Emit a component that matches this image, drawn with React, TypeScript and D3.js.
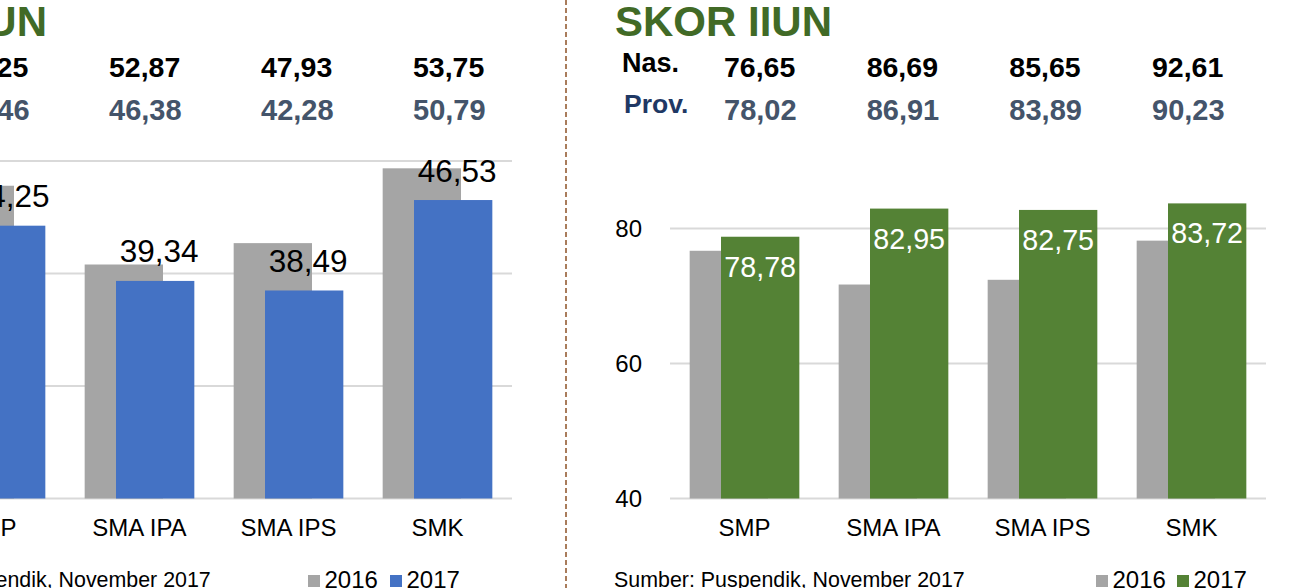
import React from "react";
import * as d3 from "d3";

const categories = ["SMP", "SMA IPA", "SMA IPS", "SMK"];
const seriesNames = ["2016", "2017"];

// Left panel (UN)
const un2016 = [47.8, 40.8, 42.7, 49.35];
const un2017 = [44.25, 39.34, 38.49, 46.53];
const unNas = ["54,25", "52,87", "47,93", "53,75"];
const unProv = ["49,46", "46,38", "42,28", "50,79"];
const unTicks = [20, 30, 40, 50];

// Right panel (IIUN)
const iiun2016 = [76.7, 71.7, 72.4, 78.2];
const iiun2017 = [78.78, 82.95, 82.75, 83.72];
const iiunNas = ["76,65", "86,69", "85,65", "92,61"];
const iiunProv = ["78,02", "86,91", "83,89", "90,23"];
const iiunTicks = [40, 60, 80];

const FONT = "'Liberation Sans', Arial, Helvetica, sans-serif";
const GRAY = "#a5a5a5";
const fmt = (v: number) => d3.format(".2f")(v).replace(".", ",");

type PanelProps = {
  shift: number;
  title: string;
  titleAnchorEnd?: number;
  v2016: number[];
  v2017: number[];
  nas: string[];
  prov: string[];
  ticks: number[];
  domain: [number, number];
  color2017: string;
  labelInside: boolean;
  headerRange: [number, number];
  legendX: [number, number];
};

function Panel(p: PanelProps) {
  const s = p.shift;
  const x = d3
    .scaleBand<string>()
    .domain(categories)
    .range([670 + s, 1266 + s])
    .paddingInner(0.264)
    .paddingOuter(0.132);
  const y = d3.scaleLinear().domain(p.domain).range([498.5, p.domain[0] === 20 ? 161 : 228.5]);
  const bw = x.bandwidth() / 1.4;
  const off = x.bandwidth() - bw;
  const hx = d3.scalePoint<string>().domain(categories).range(p.headerRange);
  return (
    <g fontFamily={FONT}>
      {/* title */}
      {p.titleAnchorEnd !== undefined ? (
        <text x={p.titleAnchorEnd} y={36} textAnchor="end" fontSize={42} fontWeight="bold" fill="#416a26">
          {p.title}
        </text>
      ) : (
        <text x={615 + s} y={36} fontSize={42} fontWeight="bold" fill="#416a26">
          {p.title}
        </text>
      )}
      <text x={622 + s} y={72} fontSize={27} fontWeight="bold" fill="#000">Nas.</text>
      <text x={624 + s} y={113} fontSize={26.5} fontWeight="bold" fill="#1f3864">Prov.</text>
      {categories.map((c, i) => (
        <g key={"h" + c}>
          <text x={hx(c)} y={76.5} fontSize={28.5} fontWeight="bold" fill="#000">{p.nas[i]}</text>
          <text x={hx(c)} y={120} fontSize={29} fontWeight="bold" fill="#44546a">{p.prov[i]}</text>
        </g>
      ))}
      {/* gridlines */}
      {p.ticks.map((t) => (
        <g key={"t" + t}>
          <line x1={670 + s} x2={1266 + s} y1={y(t)} y2={y(t)} stroke="#d9d9d9" strokeWidth={2} />
          <text x={642 + s} y={y(t)} dy="0.35em" textAnchor="end" fontSize={24} fill="#000">{t}</text>
        </g>
      ))}
      {/* bars */}
      {categories.map((c, i) => {
        const x0 = x(c)!;
        const yb = y(p.domain[0]);
        return (
          <g key={"b" + c}>
            <rect x={x0} y={y(p.v2016[i])} width={bw} height={yb - y(p.v2016[i])} fill={GRAY} />
            <rect x={x0 + off} y={y(p.v2017[i])} width={bw} height={yb - y(p.v2017[i])} fill={p.color2017} />
            {p.labelInside ? (
              <text x={x0 + off + bw / 2} y={y(p.v2017[i]) + 40} textAnchor="middle" fontSize={28.7} fill="#fff">
                {fmt(p.v2017[i])}
              </text>
            ) : (
              <text x={x0 + off + bw / 2 + 4} y={y(p.v2017[i]) - 18.5} textAnchor="middle" fontSize={31.5} fill="#000">
                {fmt(p.v2017[i])}
              </text>
            )}
            <text x={x0 + x.bandwidth() / 2} y={536} textAnchor="middle" fontSize={24} fill="#000">{c}</text>
          </g>
        );
      })}
      {/* source */}
      <text x={614 + s} y={587} fontSize={21.4} fill="#000">Sumber: Puspendik, November 2017</text>
      {/* legend */}
      {seriesNames.map((n, i) => (
        <g key={"l" + n}>
          <rect x={p.legendX[i]} y={575} width={12} height={12} fill={i === 0 ? GRAY : p.color2017} />
          <text x={p.legendX[i] + 16.5} y={588} fontSize={24} fill="#000">{n}</text>
        </g>
      ))}
    </g>
  );
}

export default function App() {
  return (
    <svg
      width={1304}
      height={588}
      style={{ position: "absolute", left: 0, top: 0, background: "#fff" }}
    >
      <rect width={1304} height={588} fill="#fff" />
      <Panel
        shift={-754}
        title="SKOR UN"
        titleAnchorEnd={47}
        v2016={un2016}
        v2017={un2017}
        nas={unNas}
        prov={unProv}
        ticks={unTicks}
        domain={[20, 50]}
        color2017="#4472c4"
        labelInside={false}
        headerRange={[-43, 413]}
        legendX={[308, 390]}
      />
      <Panel
        shift={0}
        title="SKOR IIUN"
        v2016={iiun2016}
        v2017={iiun2017}
        nas={iiunNas}
        prov={iiunProv}
        ticks={iiunTicks}
        domain={[40, 80]}
        color2017="#548235"
        labelInside={true}
        headerRange={[724, 1152]}
        legendX={[1096, 1177]}
      />
      <line x1={566} x2={566} y1={0} y2={588} stroke="#a97c5b" strokeWidth={2} strokeDasharray="5,3" />
    </svg>
  );
}
